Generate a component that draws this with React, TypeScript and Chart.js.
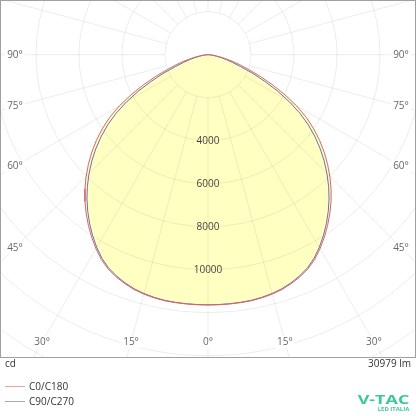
import React, { useEffect, useRef } from "react";
import { Chart, registerables } from "chart.js";

Chart.register(...registerables);

// ---- data ----
const gammaAngles = [
  0, 2.5, 5, 7.5, 10, 12.5, 15, 17.5, 20, 22.5, 25, 27.5, 30, 32.5, 35, 37.5, 40, 42.5, 45,
  47.5, 50, 52.5, 55, 57.5, 60, 62.5, 65, 67.5, 70, 72.5, 75, 77.5, 80, 82.5, 85, 87.5, 90,
];
const intensityC0C180 = [
  11642, 11641, 11638, 11632, 11620, 11585, 11530, 11450, 11330, 11180, 10992, 10742, 10420,
  10070, 9697, 9310, 8905, 8475, 8020, 7545, 7055, 6543, 5998, 5418, 4760, 4030, 3310, 2630,
  2010, 1550, 1150, 800, 520, 320, 170, 65, 0,
];
const intensityC90C270 = [
  11632, 11631, 11626, 11616, 11600, 11560, 11500, 11415, 11290, 11135, 10942, 10682, 10350,
  9985, 9597, 9188, 8760, 8305, 7825, 7330, 6815, 6273, 5698, 5068, 4360, 3615, 2880, 2215,
  1610, 1200, 890, 620, 400, 250, 130, 50, 0,
];
const seriesLabels = ["C0/C180", "C90/C270"];
const ringValues = [2000, 4000, 6000, 8000, 10000, 12000, 14000, 16000, 18000, 20000, 22000];
const ringTickLabels = ["4000", "6000", "8000", "10000"];
const angleTickLabels = [0, 15, 30, 45, 60, 75, 90];
const unitText = "cd";
const fluxText = "30979 lm";
const brandText = "V-TAC";
const brandSubText = "LED ITALIA";

// ---- layout / style constants ----
const FONT = "'Open Sans', 'Noto Sans', sans-serif";
const PX_PER_CD = 43 / 2000;
const AREA_W = 416;
const AREA_H = 357;
const CENTER_Y = 54.7;
const ANGLE_STEP = 15;
const RED = "#d9675c";
const BLUE = "#6b6bc6";

function polarPoints(values: number[]) {
  const pts: { x: number; y: number }[] = [];
  for (let i = gammaAngles.length - 1; i >= 0; i--) {
    const g = (gammaAngles[i] * Math.PI) / 180;
    pts.push({ x: -values[i] * Math.sin(g), y: -values[i] * Math.cos(g) });
  }
  for (let i = 1; i < gammaAngles.length; i++) {
    const g = (gammaAngles[i] * Math.PI) / 180;
    pts.push({ x: values[i] * Math.sin(g), y: -values[i] * Math.cos(g) });
  }
  return pts;
}

const polarPlugin = {
  id: "polarGrid",
  beforeDatasetsDraw(chart: any) {
    const { ctx, chartArea: a, scales } = chart;
    const cx = scales.x.getPixelForValue(0);
    const cy = scales.y.getPixelForValue(0);
    const k = scales.x.getPixelForValue(1000) - cx;
    const rad = (v: number) => (v / 1000) * k;
    ctx.save();
    ctx.beginPath();
    ctx.rect(a.left, a.top, a.right - a.left, a.bottom - a.top);
    ctx.clip();
    ctx.strokeStyle = "rgba(0,0,0,0.075)";
    ctx.lineWidth = 1;
    for (const v of ringValues) {
      ctx.beginPath();
      ctx.arc(cx, cy, rad(v), 0, Math.PI * 2);
      ctx.stroke();
    }
    const r0 = rad(ringValues[0]);
    const r1 = rad(ringValues[ringValues.length - 1]);
    for (let d = 0; d < 360; d += ANGLE_STEP) {
      const g = (d * Math.PI) / 180;
      const sx = Math.sin(g);
      const sy = Math.cos(g);
      ctx.beginPath();
      ctx.moveTo(cx + sx * r0, cy + sy * r0);
      ctx.lineTo(cx + sx * r1, cy + sy * r1);
      ctx.stroke();
    }
    // angle labels
    ctx.font = `10px ${FONT}`;
    ctx.textAlign = "center";
    ctx.textBaseline = "middle";
    const inset = 15;
    for (const deg of angleTickLabels) {
      const sides = deg === 0 ? [1] : [-1, 1];
      for (const s of sides) {
        const g = (deg * Math.PI) / 180;
        const sn = Math.sin(g);
        const cs = Math.cos(g);
        const tSide = sn > 1e-6 ? (cx - a.left - inset) / sn : Infinity;
        const tBot = cs > 1e-6 ? (a.bottom - inset - cy) / cs : Infinity;
        const t = Math.min(tSide, tBot);
        const px = cx + s * sn * t;
        const py = cy + cs * t;
        const txt = deg + "°";
        const w = ctx.measureText(txt).width;
        ctx.fillStyle = "#ffffff";
        ctx.fillRect(px - w / 2 - 2, py - 6, w + 4, 12);
        ctx.fillStyle = "#666666";
        ctx.fillText(txt, px, py);
      }
    }
    ctx.restore();
  },
  afterDatasetsDraw(chart: any) {
    const { ctx, scales } = chart;
    const cx = scales.x.getPixelForValue(0);
    ctx.save();
    ctx.font = `10px ${FONT}`;
    ctx.textAlign = "center";
    ctx.textBaseline = "middle";
    ctx.fillStyle = "#444444";
    for (const lbl of ringTickLabels) {
      const py = scales.y.getPixelForValue(-Number(lbl));
      ctx.fillText(lbl, cx, py + 0.5);
    }
    ctx.restore();
  },
  afterDraw(chart: any) {
    const { ctx, chartArea: a } = chart;
    ctx.save();
    // frame
    ctx.strokeStyle = "#a0a0a0";
    ctx.lineWidth = 1;
    ctx.strokeRect(a.left + 0.5, a.top + 0.5, a.right - a.left - 1, a.bottom - a.top);
    // unit & flux
    ctx.font = `10px ${FONT}`;
    ctx.textBaseline = "middle";
    ctx.fillStyle = "#333333";
    ctx.textAlign = "left";
    ctx.fillText(unitText, 5, a.bottom + 7);
    ctx.textAlign = "right";
    ctx.fillText(fluxText, a.right - 5, a.bottom + 7);
    // legend
    ctx.textAlign = "left";
    chart.data.datasets.forEach((ds: any, i: number) => {
      const y = a.bottom + 29 + i * 15;
      ctx.globalAlpha = 0.6;
      ctx.strokeStyle = ds.borderColor;
      ctx.beginPath();
      ctx.moveTo(5, y + 0.5);
      ctx.lineTo(25, y + 0.5);
      ctx.stroke();
      ctx.globalAlpha = 1;
      ctx.fillStyle = "#333333";
      ctx.fillText(ds.label, 29, y + 1);
    });
    // brand
    ctx.fillStyle = "#3cc99a";
    ctx.textAlign = "left";
    ctx.textBaseline = "alphabetic";
    ctx.font = `bold 11.5px ${FONT}`;
    let w = ctx.measureText(brandText).width;
    ctx.save();
    ctx.translate(357.7, 404.2);
    ctx.scale(51.6 / w, 1);
    ctx.fillText(brandText, 0, 0);
    ctx.restore();
    ctx.font = `bold 5px ${FONT}`;
    w = ctx.measureText(brandSubText).width;
    ctx.save();
    ctx.translate(377.7, 411);
    ctx.scale(31.6 / w, 1);
    ctx.fillText(brandSubText, 0, 0);
    ctx.restore();
    ctx.restore();
  },
};

export default function App() {
  const canvasRef = useRef<HTMLCanvasElement | null>(null);

  useEffect(() => {
    const canvas = canvasRef.current;
    if (!canvas) return;
    const xHalf = AREA_W / 2 / PX_PER_CD;
    const yMax = CENTER_Y / PX_PER_CD;
    const yMin = -(AREA_H - CENTER_Y) / PX_PER_CD;
    const chart = new Chart(canvas, {
      type: "scatter",
      data: {
        datasets: [
          {
            label: seriesLabels[0],
            data: polarPoints(intensityC0C180),
            showLine: true,
            borderColor: RED,
            borderWidth: 1,
            backgroundColor: "#ffffc2",
            fill: "shape",
            pointRadius: 0,
            tension: 0,
          },
          {
            label: seriesLabels[1],
            data: polarPoints(intensityC90C270),
            showLine: true,
            borderColor: BLUE,
            borderWidth: 1,
            backgroundColor: "rgba(0,0,0,0)",
            fill: false,
            pointRadius: 0,
            tension: 0,
          },
        ],
      },
      options: {
        animation: false,
        responsive: false,
        maintainAspectRatio: false,
        devicePixelRatio: 1,
        events: [],
        layout: { padding: { left: 0, right: 0, top: 0, bottom: 416 - AREA_H } },
        scales: {
          x: { type: "linear", min: -xHalf, max: xHalf, display: false },
          y: { type: "linear", min: yMin, max: yMax, display: false },
        },
        plugins: {
          legend: { display: false },
          tooltip: { enabled: false },
          filler: { drawTime: "beforeDatasetsDraw" },
        },
      } as any,
      plugins: [polarPlugin],
    });
    return () => chart.destroy();
  }, []);

  return (
    <div style={{ position: "absolute", left: 0, top: 0, width: 416, height: 416, background: "#fff" }}>
      <canvas ref={canvasRef} width={416} height={416} style={{ display: "block" }} />
    </div>
  );
}
